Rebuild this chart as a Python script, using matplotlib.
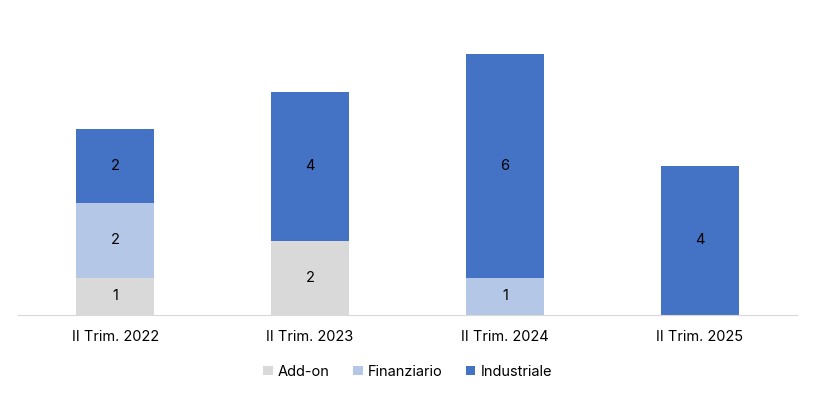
import numpy as np
import matplotlib.pyplot as plt

plt.rcParams['font.family'] = ['Inter', 'DejaVu Sans']

categories = ['II Trim. 2022', 'II Trim. 2023', 'II Trim. 2024', 'II Trim. 2025']
addon = [1, 2, 0, 0]
finanziario = [2, 0, 1, 0]
industriale = [2, 4, 6, 4]

series = [('Add-on', addon, '#D9D9D9'),
          ('Finanziario', finanziario, '#B4C7E7'),
          ('Industriale', industriale, '#4472C4')]

fig = plt.figure(figsize=(8.14, 3.94), dpi=100)
ax = fig.add_axes([18/814, 79/394, 779/814, 298/394])

x = np.arange(len(categories))
bottom = np.zeros(len(categories))
for name, vals, col in series:
    vals = np.array(vals, dtype=float)
    bars = ax.bar(x, vals, 0.4, bottom=bottom, color=col, label=name)
    for rect, v in zip(bars, vals):
        if v > 0:
            ax.text(rect.get_x() + rect.get_width()/2, rect.get_y() + v/2, f'{int(v)}',
                    ha='center', va='center', fontsize=10.5, color='black')
    bottom += vals

ax.set_xlim(-0.5, 3.5)
ax.set_ylim(0, 8)
ax.set_xticks(x)
ax.set_xticklabels(categories, fontsize=10.5)
ax.tick_params(axis='x', length=0, pad=11)
ax.set_yticks([])
for s in ['top', 'right', 'left']:
    ax.spines[s].set_visible(False)
ax.spines['bottom'].set_color('#D9D9D9')

ax.legend(loc='center', bbox_to_anchor=(0.5, -0.19), ncol=3, frameon=False,
          fontsize=10.5, handlelength=0.65, handleheight=0.65, handletextpad=0.35,
          columnspacing=1.6)

plt.savefig('out.png', dpi=100)
